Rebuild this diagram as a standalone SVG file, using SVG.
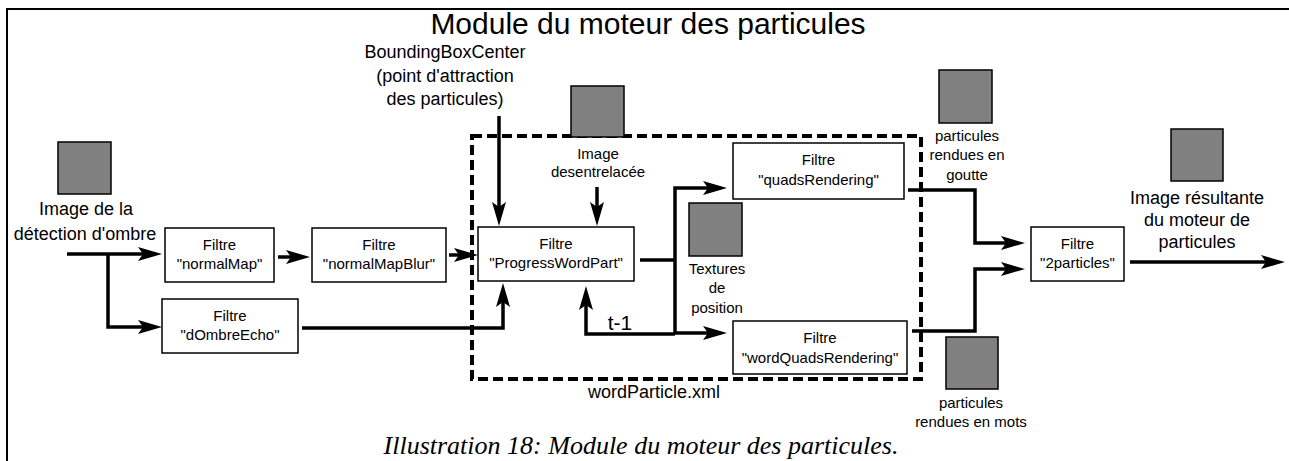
<svg xmlns="http://www.w3.org/2000/svg" width="1289" height="461" viewBox="0 0 1289 461">
  <style>
    .frame { fill: none; stroke: #000; stroke-width: 2; }
    .box { fill: #fff; stroke: #000; stroke-width: 1.5; }
    .img { fill: #808080; stroke: #000; stroke-width: 1.5; }
    .wire { fill: none; stroke: #000; stroke-width: 3.5; }
    .group { fill: none; stroke: #000; stroke-width: 4; stroke-dasharray: 10 5; }
    .t { font-family: "Liberation Sans", Arial, sans-serif; fill: #000; text-anchor: middle; }
    .title { font-size: 30px; }
    .lbl { font-size: 18px; }
    .small { font-size: 15px; }
    .boxt { font-size: 15px; }
    .caption { font-family: "Liberation Serif", "Times New Roman", serif; font-style: italic; font-size: 26px; fill: #000; text-anchor: middle; }
  </style>
  <defs>
    <marker id="head" markerUnits="userSpaceOnUse" markerWidth="26" markerHeight="16" refX="14" refY="7" orient="auto" overflow="visible">
      <path d="M0,0 L24,7 L0,14 L5,7 Z" fill="#000"/>
    </marker>
  </defs>

  <rect width="1289" height="461" fill="#fff"/>
  <path class="frame" d="M7,461 V9 H1289"/>

  <text class="t title" x="648" y="34">Module du moteur des particules</text>

  <!-- wordParticle.xml sub-graph boundary -->
  <g id="wordParticle">
    <rect class="group" x="472" y="136" width="449" height="243"/>
    <text class="t lbl" x="654" y="398">wordParticle.xml</text>
  </g>

  <!-- connectors -->
  <g id="connectors">
    <path class="wire" d="M67,254 H152" marker-end="url(#head)"/>
    <path class="wire" d="M108,254 V327 H152" marker-end="url(#head)"/>
    <path class="wire" d="M278,257 H300" marker-end="url(#head)"/>
    <path class="wire" d="M449,255 H468" marker-end="url(#head)"/>
    <path class="wire" d="M302,328 H503 V293" marker-end="url(#head)"/>
    <path class="wire" d="M499,116 V216" marker-end="url(#head)"/>
    <path class="wire" d="M597,187 V216" marker-end="url(#head)"/>
    <path class="wire" d="M640,260 H675"/>
    <path class="wire" d="M675,333 V188 H717" marker-end="url(#head)"/>
    <path class="wire" d="M675,333 H717" marker-end="url(#head)"/>
    <path class="wire" d="M675,334 H586 V296" marker-end="url(#head)"/>
    <text class="t" x="620" y="330" style="font-size:21px">t-1</text>
    <path class="wire" d="M908,190 H975 V243 H1015" marker-end="url(#head)"/>
    <path class="wire" d="M912,331 H975 V269 H1015" marker-end="url(#head)"/>
    <path class="wire" d="M1130,262 H1275" marker-end="url(#head)"/>
  </g>

  <!-- images -->
  <g id="imgShadow">
    <rect class="img" x="58" y="142" width="53" height="52"/>
    <text class="t lbl" x="86" y="215">Image de la</text>
    <text class="t lbl" x="85" y="240">détection d'ombre</text>
  </g>
  <g id="imgBBox">
    <text class="t lbl" x="445" y="58">BoundingBoxCenter</text>
    <text class="t lbl" x="445" y="82">(point d'attraction</text>
    <text class="t lbl" x="445" y="105">des particules)</text>
  </g>
  <g id="imgDeinterlaced">
    <rect class="img" x="571" y="86" width="53" height="51"/>
    <text class="t small" x="598" y="159">Image</text>
    <text class="t small" x="598" y="177">desentrelacée</text>
  </g>
  <g id="imgTextures">
    <rect class="img" x="689" y="203" width="53" height="53"/>
    <text class="t small" x="717" y="274">Textures</text>
    <text class="t small" x="717" y="293">de</text>
    <text class="t small" x="717" y="313">position</text>
  </g>
  <g id="imgDrops">
    <rect class="img" x="939" y="70" width="53" height="53"/>
    <text class="t small" x="967" y="141">particules</text>
    <text class="t small" x="967" y="160">rendues en</text>
    <text class="t small" x="967" y="180">goutte</text>
  </g>
  <g id="imgWords">
    <rect class="img" x="946" y="337" width="52" height="52"/>
    <text class="t small" x="971" y="408">particules</text>
    <text class="t small" x="971" y="427">rendues en mots</text>
  </g>
  <g id="imgResult">
    <rect class="img" x="1171" y="129" width="52" height="52"/>
    <text class="t lbl" x="1197" y="204">Image résultante</text>
    <text class="t lbl" x="1197" y="226">du moteur de</text>
    <text class="t lbl" x="1197" y="248">particules</text>
  </g>

  <!-- filters -->
  <g id="normalMap">
    <rect class="box" x="165" y="228" width="109" height="54"/>
    <text class="t boxt" x="219.5" y="249.5">Filtre</text>
    <text class="t boxt" x="219.5" y="269">"normalMap"</text>
  </g>
  <g id="normalMapBlur">
    <rect class="box" x="312" y="228" width="134" height="54"/>
    <text class="t boxt" x="379" y="249.5">Filtre</text>
    <text class="t boxt" x="379" y="269">"normalMapBlur"</text>
  </g>
  <g id="dOmbreEcho">
    <rect class="box" x="162" y="299" width="136" height="54"/>
    <text class="t boxt" x="230" y="320.5">Filtre</text>
    <text class="t boxt" x="230" y="340">"dOmbreEcho"</text>
  </g>
  <g id="progressWordPart">
    <rect class="box" x="478" y="227" width="156" height="54"/>
    <text class="t boxt" x="556" y="248.5">Filtre</text>
    <text class="t boxt" x="556" y="268">"ProgressWordPart"</text>
  </g>
  <g id="quadsRendering">
    <rect class="box" x="733" y="143" width="171" height="56"/>
    <text class="t boxt" x="818.5" y="165">Filtre</text>
    <text class="t boxt" x="818.5" y="185">"quadsRendering"</text>
  </g>
  <g id="wordQuadsRendering">
    <rect class="box" x="733" y="321" width="174" height="53"/>
    <text class="t boxt" x="820" y="343">Filtre</text>
    <text class="t boxt" x="820" y="363">"wordQuadsRendering"</text>
  </g>
  <g id="twoParticles">
    <rect class="box" x="1031" y="227" width="93" height="54"/>
    <text class="t boxt" x="1077.5" y="248.5">Filtre</text>
    <text class="t boxt" x="1077.5" y="268">"2particles"</text>
  </g>

  <text class="caption" x="641" y="454">Illustration 18: Module du moteur des particules.</text>
</svg>
